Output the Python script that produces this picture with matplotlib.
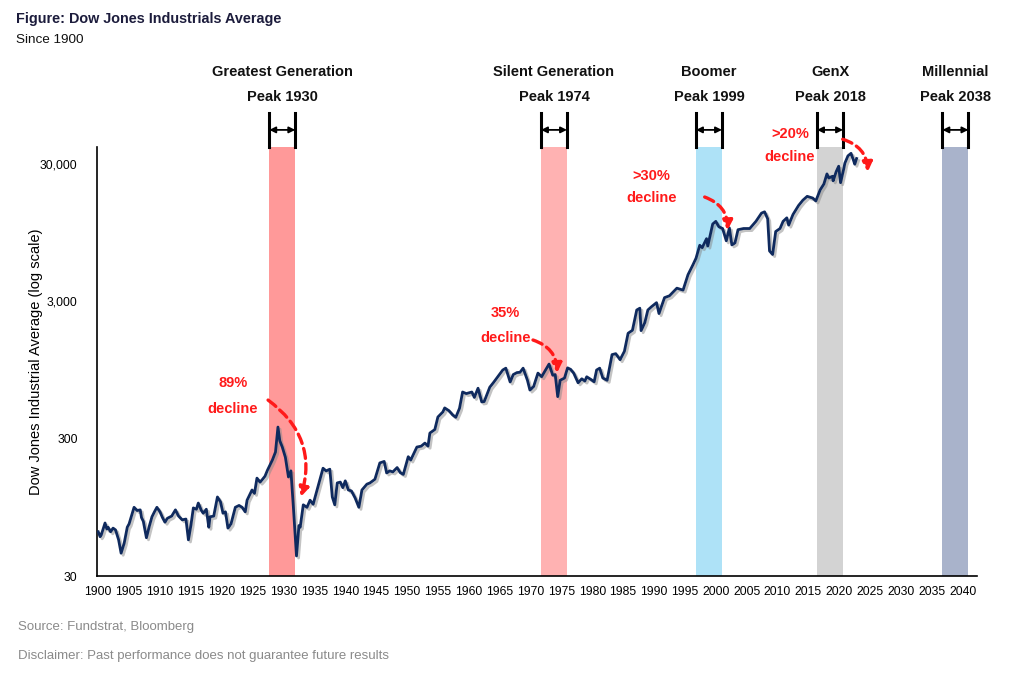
import matplotlib
matplotlib.use("Agg")
import matplotlib.pyplot as plt
import matplotlib.patheffects as pe

plt.rcParams['font.family'] = ['Liberation Sans', 'DejaVu Sans']

# DJIA (year, level)
years = [1900.0, 1900.3, 1900.5, 1901.1, 1901.4, 1901.6, 1902.0, 1902.4, 1902.8, 1903.3,
         1903.7, 1904.2, 1904.7, 1905.0, 1905.3, 1905.8, 1906.3, 1906.8, 1907.0, 1907.3,
         1907.8, 1908.3, 1908.7, 1909.1, 1909.5, 1910.0, 1910.4, 1910.8, 1911.2, 1911.9,
         1912.5, 1913.0, 1913.6, 1914.2, 1914.6, 1915.0, 1915.4, 1915.9, 1916.2, 1916.7,
         1917.0, 1917.5, 1917.9, 1918.1, 1918.7, 1919.3, 1919.8, 1920.2, 1920.6, 1921.0,
         1921.5, 1922.2, 1922.8, 1923.3, 1923.8, 1924.1, 1924.9, 1925.3, 1925.7, 1926.2,
         1926.5, 1927.0, 1927.4, 1928.2, 1928.7, 1929.1, 1929.4, 1929.8, 1930.3, 1930.8,
         1931.2, 1931.6, 1932.1, 1932.5, 1932.7, 1933.2, 1933.8, 1934.3, 1934.8, 1935.5,
         1936.4, 1936.9, 1937.5, 1937.9, 1938.3, 1938.7, 1939.2, 1939.6, 1940.0, 1940.5,
         1941.0, 1941.6, 1942.2, 1942.7, 1943.5, 1944.0, 1944.8, 1945.6, 1946.3, 1946.7,
         1947.2, 1947.7, 1948.4, 1948.9, 1949.4, 1950.2, 1950.6, 1951.6, 1952.3, 1952.9,
         1953.4, 1953.7, 1954.5, 1955.0, 1955.8, 1956.1, 1956.8, 1957.4, 1957.9, 1958.5,
         1959.0, 1959.6, 1960.5, 1960.9, 1961.5, 1962.1, 1962.5, 1963.4, 1964.0, 1964.8,
         1965.5, 1966.0, 1966.7, 1967.2, 1967.8, 1968.3, 1968.8, 1969.5, 1969.9, 1970.5,
         1971.2, 1971.8, 1972.6, 1973.0, 1973.6, 1974.0, 1974.4, 1974.8, 1975.5, 1976.0,
         1976.5, 1977.0, 1977.7, 1978.3, 1978.8, 1979.1, 1979.8, 1980.3, 1980.7, 1981.2,
         1981.7, 1982.4, 1983.2, 1983.8, 1984.5, 1985.2, 1985.8, 1986.5, 1987.2, 1987.7,
         1987.9, 1988.5, 1989.0, 1989.6, 1990.4, 1990.8, 1991.7, 1992.5, 1993.7, 1994.7,
         1995.5, 1996.3, 1996.8, 1997.4, 1997.8, 1998.5, 1998.7, 1999.5, 2000.0, 2000.5,
         2001.1, 2001.7, 2002.2, 2002.6, 2003.1, 2003.6, 2004.5, 2005.5, 2006.5, 2007.4,
         2007.9, 2008.4, 2008.7, 2009.2, 2009.7, 2010.4, 2010.9, 2011.5, 2011.8, 2012.5,
         2013.4, 2014.1, 2014.8, 2015.7, 2016.2, 2016.9, 2017.5, 2018.0, 2018.3, 2018.9,
         2019.0, 2019.5, 2019.9, 2020.2, 2020.7, 2020.9, 2021.4, 2021.9, 2022.3, 2022.5,
         2022.8]
djia = [63, 58, 60, 73, 66, 68, 63, 67, 65, 55,
        44, 52, 68, 72, 80, 95, 90, 91, 80, 75,
        57, 70, 81, 88, 95, 88, 80, 74, 79, 82,
        91, 82, 77, 78, 55, 70, 94, 92, 102, 90,
        86, 92, 68, 81, 82, 113, 104, 86, 88, 67,
        72, 95, 98, 95, 88, 107, 127, 120, 155, 145,
        150, 160, 177, 210, 240, 365, 290, 261, 220, 158,
        175, 95, 42, 70, 68, 99, 95, 107, 100, 130,
        183, 175, 180, 113, 99, 143, 145, 132, 148, 127,
        125, 111, 95, 127, 140, 143, 152, 200, 205, 169,
        175, 172, 185, 170, 165, 222, 210, 261, 265, 279,
        265, 330, 350, 432, 470, 503, 480, 447, 430, 500,
        657, 640, 657, 600, 700, 556, 560, 712, 770, 860,
        950, 980, 777, 880, 910, 915, 980, 800, 679, 720,
        902, 850, 980, 1050, 870, 880, 608, 800, 830, 985,
        960, 900, 767, 820, 790, 848, 810, 780, 950, 980,
        831, 800, 1230, 1250, 1130, 1300, 1760, 1850, 2600, 2680,
        1840, 2100, 2600, 2750, 2940, 2450, 3200, 3300, 3750, 3630,
        4700, 5550, 6200, 7700, 7400, 8600, 7600, 11000, 11500, 10500,
        10200, 8300, 10300, 7750, 8000, 10000, 10200, 10200, 11500, 13200,
        13500, 12000, 7000, 6600, 9700, 10200, 11500, 12200, 10800, 12900,
        15000, 16400, 17500, 17000, 16200, 19500, 21500, 25500, 23800, 24500,
        22700, 26500, 29000, 22000, 27500, 30500, 34500, 36000, 32000, 30000,
        33000]

# generation peak windows
gen_names = ["Greatest Generation", "Silent Generation", "Boomer", "GenX", "Millennial"]
gen_peaks = ["Peak 1930", "Peak 1974", "Peak 1999", "Peak 2018", "Peak 2038"]
band_start = [1927.7, 1971.7, 1996.8, 2016.4, 2036.7]
band_end = [1931.9, 1975.9, 2001.0, 2020.6, 2040.9]
band_colors = ["#ff9999", "#ffb2b2", "#aee2f7", "#d3d3d3", "#a9b3cb"]

fig = plt.figure(figsize=(10.19, 6.73), dpi=100)
ax = fig.add_axes([0.0952, 0.1441, 0.8636, 0.6374])

for s, e, c in zip(band_start, band_end, band_colors):
    ax.axvspan(s, e, color=c, lw=0, zorder=1)

ax.plot(years, djia, color="#0f2a5e", lw=2.0, zorder=3,
        path_effects=[pe.SimpleLineShadow(offset=(1.5, -1.5), shadow_color="#888888", alpha=0.5),
                      pe.Normal()])

ax.set_yscale("log")
ax.set_ylim(30, 40000)
ax.set_xlim(1899.8, 2042.3)
ax.set_yticks([30, 300, 3000, 30000])
ax.set_yticklabels(["30", "300", "3,000", "30,000"])
ax.minorticks_off()
ax.set_xticks(range(1900, 2041, 5))
ax.tick_params(length=0, labelsize=8.7, pad=7)
ax.tick_params(axis="y", pad=14)
for sp in ["top", "right"]:
    ax.spines[sp].set_visible(False)
ax.spines["left"].set_linewidth(1.2)
ax.spines["bottom"].set_linewidth(1.2)
ax.set_ylabel("Dow Jones Industrial Average (log scale)", fontsize=10.5)
ax.yaxis.set_label_coords(-0.061, 0.5)

# brackets and labels above each band
trans = ax.get_xaxis_transform()
for name, peak, s, e in zip(gen_names, gen_peaks, band_start, band_end):
    ax.plot([s, s], [1.0, 1.079], transform=trans, color="black", lw=2.2, clip_on=False)
    ax.plot([e, e], [1.0, 1.079], transform=trans, color="black", lw=2.2, clip_on=False)
    ax.annotate("", xy=(s, 1.04), xytext=(e, 1.04), xycoords=trans, textcoords=trans,
                arrowprops=dict(arrowstyle="<|-|>", color="black", lw=1.3,
                                mutation_scale=9, shrinkA=0, shrinkB=0))
    mid = (s + e) / 2
    ax.text(mid, 1.117, peak, transform=trans, ha="center", va="center",
            fontsize=10.5, fontweight="bold", color="#111111")
    ax.text(mid, 1.175, name, transform=trans, ha="center", va="center",
            fontsize=10.5, fontweight="bold", color="#111111")

# decline callouts
red = "#ff1a1a"
notes = [("89%", "decline", 1921.8, 764, 493, (1927.5, 574), (1932.8, 113)),
         ("35%", "decline", 1965.9, 2466, 1624, (1970.4, 1572), (1974.3, 903)),
         (">30%", "decline", 1989.6, 24500, 17000, (1998.2, 17300), (2001.9, 9900)),
         (">20%", "decline", 2012.0, 49600, 33700, (2020.55, 45600), (2024.6, 26300))]
for t1, t2, tx, ty1, ty2, start, end in notes:
    ax.text(tx, ty1, t1, ha="center", va="center", fontsize=10.5, fontweight="bold",
            color=red, zorder=5, clip_on=False)
    ax.text(tx, ty2, t2, ha="center", va="center", fontsize=10.5, fontweight="bold",
            color=red, zorder=5, clip_on=False)
    ax.annotate("", xy=end, xytext=start, annotation_clip=False, zorder=5,
                arrowprops=dict(arrowstyle="-|>", color=red, lw=2.4, linestyle=(0, (3, 1.6)),
                                connectionstyle="arc3,rad=-0.35", mutation_scale=14,
                                shrinkA=0, shrinkB=0))

fig.text(0.016, 0.972, "Figure: Dow Jones Industrials Average", fontsize=10.4, fontweight="bold",
         color="#1c1c3c", va="center")
fig.text(0.016, 0.940, "Since 1900", fontsize=9.7, color="#111111", va="center")
fig.text(0.018, 0.068, "Source: Fundstrat, Bloomberg", fontsize=9.5, color="#8a8a8a", va="center")
fig.text(0.018, 0.025, "Disclaimer: Past performance does not guarantee future results",
         fontsize=9.5, color="#8a8a8a", va="center")

fig.savefig("out.png", dpi=100)
